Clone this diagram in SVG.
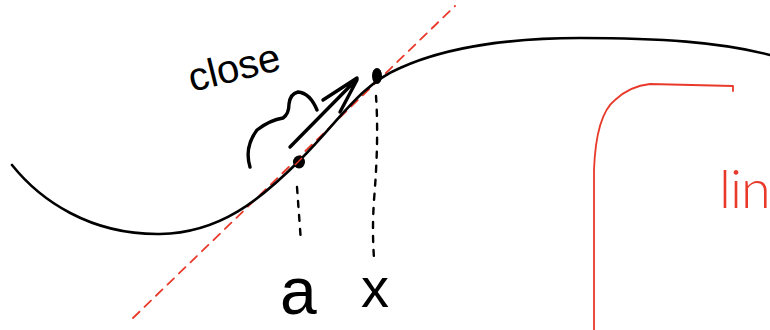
<svg xmlns="http://www.w3.org/2000/svg" width="770" height="330" viewBox="0 0 770 330">
<style>
.ink{fill:none;stroke:#000;stroke-width:2.6;stroke-linecap:round;stroke-linejoin:round}
.thick{stroke-width:3.4}
.red{fill:none;stroke:#e8392a;stroke-width:1.8;stroke-linecap:round;stroke-linejoin:round}
.dash{fill:none;stroke:#000;stroke-width:2.4;stroke-linecap:round;stroke-dasharray:6 8}
.hand{font-family:"Liberation Sans",Arial,sans-serif}
</style>
<rect width="770" height="330" fill="#fff"/>
<g id="tangent">
<path class="red" d="M133,318 L455,6" stroke-dasharray="9 7"/>
</g>
<g id="curve">
<path class="ink" d="M12,165 C40,200 90,235 160,234 C220,233 260,200 300,160 C340,120 360,85 400,68 C450,45 520,38 580,38 C660,38 720,42 770,55"/>
</g>
<g id="point-a">
<ellipse cx="299" cy="162" rx="6" ry="6.5" fill="#000"/>
<path d="M295,165 L302,158" stroke="#e8392a" stroke-width="1.5"/>
<path class="dash" d="M297,187 L301,242"/>
<text class="hand" x="280" y="314" font-size="66">a</text>
</g>
<g id="point-x">
<ellipse cx="377" cy="76" rx="5" ry="8" fill="#000"/>
<path class="dash" d="M376,96 Q379,140 374,200 Q372,230 374,258"/>
<text class="hand" x="361" y="307" font-size="56">x</text>
</g>
<g id="close-note">
<text class="hand" x="192" y="92" font-size="40" transform="rotate(-14 192 92)">close</text>
<path class="ink thick" d="M250,167 Q244,147 257,130 Q270,120 283,118 Q289,114 289,104 Q290,94 298,92 Q310,93 317,110"/>
<path class="ink thick" d="M290,147 L357,79 M323,100 L357,78 M340,112 L357,80"/>
</g>
<g id="red-bracket">
<path class="red" d="M594,330 L594,170 Q596,115 615,100 Q630,86 650,84 L733,86 L733,91"/>
<text x="719" y="208" font-size="54" letter-spacing="-1" fill="#e8392a" font-family="Lato,'Liberation Sans',sans-serif" font-weight="300">lin</text>
</g>
</svg>
